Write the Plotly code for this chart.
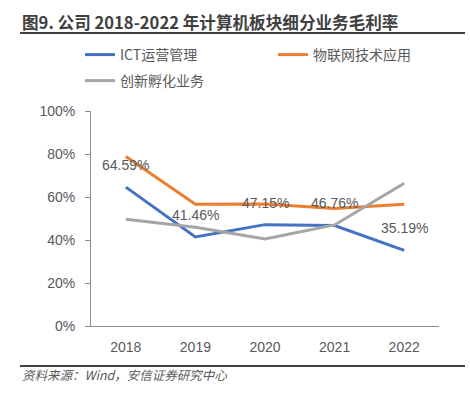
import plotly.graph_objects as go

years = ["2018", "2019", "2020", "2021", "2022"]
ict = [64.59, 41.46, 47.15, 46.76, 35.19]
iot = [78.8, 56.6, 56.8, 54.6, 56.6]
incub = [49.6, 45.9, 40.5, 47.0, 66.4]
ict_labels = ["64.59%", "41.46%", "47.15%", "46.76%", "35.19%"]
series_names = ["ICT运营管理", "物联网技术应用", "创新孵化业务"]
colors = ["#4472C4", "#ED7D31", "#A5A5A5"]
yticks = [0, 20, 40, 60, 80, 100]
ytick_text = ["0%", "20%", "40%", "60%", "80%", "100%"]

title_text = "图9. 公司 2018-2022 年计算机板块细分业务毛利率"
source_text = "资料来源：Wind，安信证券研究中心"

W, H = 470, 396
L, R, T, B = 91, 31, 111, 70
pw, ph = W - L - R, H - T - B

def px(x):
    return (x - L) / pw

def py(y):
    return (H - B - y) / ph

fig = go.Figure()
legend_ids = ["legend", "legend2", "legend3"]
for name, vals, c, lg in zip(series_names, [ict, iot, incub], colors, legend_ids):
    fig.add_trace(go.Scatter(x=years, y=vals, mode="lines", name=name, legend=lg,
                             line=dict(color=c, width=3)))

for i, (y, t) in enumerate(zip(ict, ict_labels)):
    fig.add_annotation(x=i, y=y, xref="x", yref="y", text=t, showarrow=False, yshift=22,
                       font=dict(size=14, color="#595959", family="Liberation Sans, Arial"))

fig.add_shape(type="line", xref="paper", yref="paper", x0=px(20), x1=px(465), y0=py(33), y1=py(33),
              line=dict(color="#404040", width=2))
fig.add_shape(type="line", xref="paper", yref="paper", x0=px(20), x1=px(465), y0=py(366), y1=py(366),
              line=dict(color="#404040", width=2))

fig.add_annotation(xref="paper", yref="paper", x=px(20), y=py(22), xanchor="left", yanchor="middle",
                   text="<b>" + title_text + "</b>", showarrow=False,
                   font=dict(size=16.6, color="#404040", family="Noto Sans CJK SC"))
fig.add_annotation(xref="paper", yref="paper", x=px(20), y=py(374), xanchor="left", yanchor="middle",
                   text="<i>" + source_text + "</i>", showarrow=False,
                   font=dict(size=12.5, color="#595959", family="Noto Sans CJK SC"))

legend_font = dict(size=14, color="#595959", family="Noto Sans CJK SC")

def legend_box(x, y):
    return dict(orientation="h", xref="container", yref="container",
                x=x / W, y=1 - y / H, xanchor="left", yanchor="top",
                font=legend_font, bgcolor="rgba(0,0,0,0)")

fig.update_layout(
    width=W, height=H,
    margin=dict(l=L, r=R, t=T, b=B, autoexpand=False),
    paper_bgcolor="white", plot_bgcolor="white",
    font=dict(family="Liberation Sans, Arial", size=14, color="#595959"),
    showlegend=True,
    legend=legend_box(80, 39),
    legend2=legend_box(273, 39),
    legend3=legend_box(80, 65),
)
fig.update_xaxes(type="category", range=[-0.5, 4.5], showline=True, linecolor="#8c8c8c", linewidth=1,
                 showgrid=False, ticks="", ticklabelstandoff=8,
                 tickfont=dict(size=14, color="#595959"))
fig.update_yaxes(range=[0, 100], tickvals=yticks, ticktext=ytick_text, showline=True,
                 linecolor="#8c8c8c", linewidth=1, showgrid=False, zeroline=False,
                 ticks="outside", ticklen=5, tickcolor="#8c8c8c", ticklabelstandoff=7,
                 tickfont=dict(size=14, color="#595959"))

fig.write_html("out.html", config={"displayModeBar": False},
               post_script="document.body.style.margin='0';document.body.style.overflow='hidden';")
